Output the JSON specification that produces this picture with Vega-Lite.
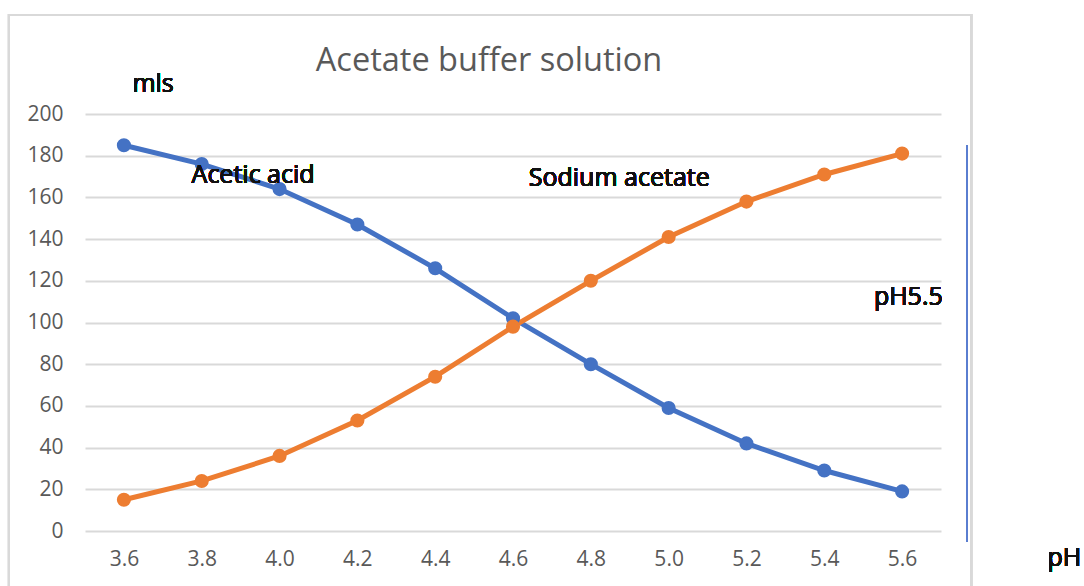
{
  "$schema": "https://vega.github.io/schema/vega-lite/v6.json",
  "width": 856,
  "height": 417,
  "autosize": "none",
  "padding": {"left": 85, "top": 114, "right": 143, "bottom": 55},
  "background": "white",
  "title": {
    "text": "Acetate buffer solution",
    "font": "Open Sans",
    "fontSize": 32.5,
    "fontWeight": "normal",
    "color": "#595959",
    "anchor": "middle",
    "dx": -24,
    "offset": -64
  },
  "config": {
    "view": {"stroke": null},
    "font": "Open Sans",
    "axis": {
      "labelFont": "Open Sans",
      "labelFontSize": 21,
      "labelColor": "#595959",
      "ticks": false,
      "domain": false,
      "title": null
    }
  },
  "data": {
    "values": [
      {"pH": 3.6, "series": "Acetic acid", "ml": 185},
      {"pH": 3.8, "series": "Acetic acid", "ml": 176},
      {"pH": 4.0, "series": "Acetic acid", "ml": 164},
      {"pH": 4.2, "series": "Acetic acid", "ml": 147},
      {"pH": 4.4, "series": "Acetic acid", "ml": 126},
      {"pH": 4.6, "series": "Acetic acid", "ml": 102},
      {"pH": 4.8, "series": "Acetic acid", "ml": 80},
      {"pH": 5.0, "series": "Acetic acid", "ml": 59},
      {"pH": 5.2, "series": "Acetic acid", "ml": 42},
      {"pH": 5.4, "series": "Acetic acid", "ml": 29},
      {"pH": 5.6, "series": "Acetic acid", "ml": 19},
      {"pH": 3.6, "series": "Sodium acetate", "ml": 15},
      {"pH": 3.8, "series": "Sodium acetate", "ml": 24},
      {"pH": 4.0, "series": "Sodium acetate", "ml": 36},
      {"pH": 4.2, "series": "Sodium acetate", "ml": 53},
      {"pH": 4.4, "series": "Sodium acetate", "ml": 74},
      {"pH": 4.6, "series": "Sodium acetate", "ml": 98},
      {"pH": 4.8, "series": "Sodium acetate", "ml": 120},
      {"pH": 5.0, "series": "Sodium acetate", "ml": 141},
      {"pH": 5.2, "series": "Sodium acetate", "ml": 158},
      {"pH": 5.4, "series": "Sodium acetate", "ml": 171},
      {"pH": 5.6, "series": "Sodium acetate", "ml": 181}
    ]
  },
  "layer": [
    {
      "mark": {"type": "rect", "fill": null, "stroke": "#d9d9d9", "strokeWidth": 2, "clip": false},
      "encoding": {
        "x": {"datum": 3.3046, "type": "quantitative"},
        "x2": {"datum": 5.7776},
        "y": {"datum": 247.5, "type": "quantitative"},
        "y2": {"datum": -40}
      }
    },
    {
      "mark": {"type": "line", "strokeWidth": 5, "point": {"filled": true, "size": 200, "opacity": 1}},
      "encoding": {
        "x": {
          "field": "pH",
          "type": "quantitative",
          "scale": {"domain": [3.5, 5.7], "nice": false, "zero": false},
          "axis": {
            "values": [3.6, 3.8, 4.0, 4.2, 4.4, 4.6, 4.8, 5.0, 5.2, 5.4, 5.6],
            "format": ".1f",
            "grid": false,
            "labelPadding": 17
          }
        },
        "y": {
          "field": "ml",
          "type": "quantitative",
          "scale": {"domain": [0, 200], "nice": false},
          "axis": {
            "values": [0, 20, 40, 60, 80, 100, 120, 140, 160, 180, 200],
            "grid": true,
            "gridColor": "#d9d9d9",
            "gridWidth": 2,
            "labelPadding": 22
          }
        },
        "color": {
          "field": "series",
          "type": "nominal",
          "scale": {"domain": ["Acetic acid", "Sodium acetate"], "range": ["#4472C4", "#ED7D31"]},
          "legend": null
        }
      }
    },
    {
      "mark": {"type": "rule", "color": "#5B7FD0", "strokeWidth": 1.5},
      "encoding": {
        "x": {"datum": 5.7673, "type": "quantitative"},
        "y": {"datum": 185.1, "type": "quantitative"},
        "y2": {"datum": -5.3}
      }
    },
    {
      "mark": {"type": "text", "font": "Open Sans", "fontSize": 25, "fill": "#111111", "stroke": null, "align": "center", "baseline": "alphabetic"},
      "encoding": {
        "x": {"datum": 3.675, "type": "quantitative"},
        "y": {"datum": 210.7, "type": "quantitative"},
        "text": {"value": "mls"}
      }
    },
    {
      "mark": {"type": "text", "font": "Open Sans", "fontSize": 25, "fill": "#111111", "stroke": null, "align": "center", "baseline": "alphabetic"},
      "encoding": {
        "x": {"datum": 3.932, "type": "quantitative"},
        "y": {"datum": 166.8, "type": "quantitative"},
        "text": {"value": "Acetic acid"}
      }
    },
    {
      "mark": {"type": "text", "font": "Open Sans", "fontSize": 25, "fill": "#111111", "stroke": null, "align": "center", "baseline": "alphabetic"},
      "encoding": {
        "x": {"datum": 4.873, "type": "quantitative"},
        "y": {"datum": 165.4, "type": "quantitative"},
        "text": {"value": "Sodium acetate"}
      }
    },
    {
      "mark": {"type": "text", "font": "Open Sans", "fontSize": 25, "fill": "#111111", "stroke": null, "align": "center", "baseline": "alphabetic"},
      "encoding": {
        "x": {"datum": 5.616, "type": "quantitative"},
        "y": {"datum": 108.4, "type": "quantitative"},
        "text": {"value": "pH5.5"}
      }
    },
    {
      "mark": {"type": "text", "font": "Open Sans", "fontSize": 25, "fill": "#111111", "stroke": null, "align": "center", "baseline": "alphabetic"},
      "encoding": {
        "x": {"datum": 6.017, "type": "quantitative"},
        "y": {"datum": -16.8, "type": "quantitative"},
        "text": {"value": "pH"}
      }
    }
  ]
}
